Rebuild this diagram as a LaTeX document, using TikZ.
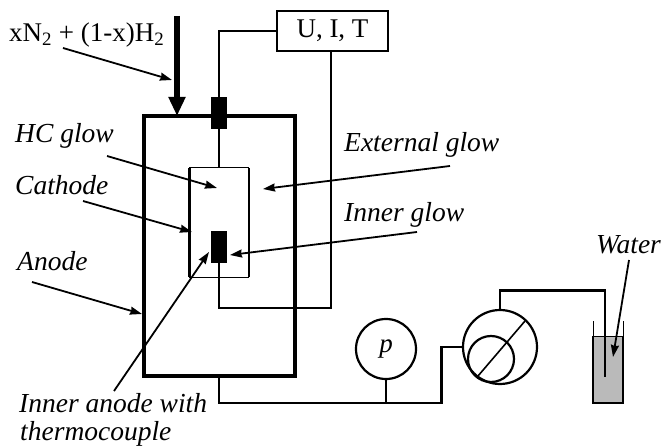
\documentclass[tikz,border=0pt]{standalone}
\usepackage{fontspec}
\setmainfont{Liberation Serif}
\usetikzlibrary{arrows.meta}

\tikzset{
    wire/.style={line width=2.4pt},
    wall/.style={line width=4pt},
    thin wall/.style={line width=1pt},
    plug/.style={fill=black,inner sep=0pt,minimum width=16pt,minimum height=32pt},
    label/.style={font=\itshape\fontsize{27.5}{30}\selectfont,inner sep=0pt,anchor=base west},
    upright/.style={font=\fontsize{27}{30}\selectfont,inner sep=0pt},
    pointer/.style={-{Stealth[length=12pt,width=8pt,inset=1pt]},line width=1.8pt},
    gasflow/.style={-{Triangle[length=19pt,width=16pt]},line width=6pt},
    meter/.style={circle,draw,line width=2.2pt,inner sep=0pt},
}

\begin{document}
\begin{tikzpicture}[x=1pt,y=-1pt]
    \useasboundingbox (0,0) rectangle (661,446);

    % chamber and cathode
    \node[draw,wall,minimum width=151pt,minimum height=260pt,inner sep=0pt] (anode) at (219,246) {};
    \node[minimum width=59pt,minimum height=109pt,inner sep=0pt] (cathode) at (219,222.5) {};
    \draw[thin wall] (cathode.north west) -- (cathode.north east);
    \draw[thin wall] (cathode.south west) -- (cathode.south east);
    \draw[wire] (cathode.north west) -- (cathode.south west);
    \draw[wire] (cathode.north east) -- (cathode.south east);
    \node[plug] (top) at (219,113) {};
    \node[plug] (inner) at (219,247) {};

    % instruments
    \node[draw,wire,upright,minimum width=111pt,minimum height=40pt] (uit) at (332.5,31) {U, I, T};
    \node[meter,minimum size=60pt,font=\itshape\fontsize{27}{30}\selectfont] (gauge) at (386,349) {p};
    \node[meter,minimum size=74pt] (pump) at (500,347) {};
    \node[meter,minimum size=46pt] (rotor) at (491,359) {};
    \coordinate (bladeA) at (478,376);
    \coordinate (bladeB) at (525,321);
    \draw[line width=1.6pt] (bladeA) -- (bladeB);

    % water vessel
    \coordinate (rimL) at (593,321);
    \coordinate (rimR) at (623,321);
    \coordinate (levelL) at (593,336);
    \coordinate (levelR) at (623,336);
    \coordinate (baseL) at (593,403);
    \coordinate (baseR) at (623,403);
    \fill[black!27] (levelL) rectangle (baseR);
    \draw[thin wall] (rimL) -- (levelL) -- (levelR) -- (rimR);
    \draw[wire] (levelL) -- (baseL) -- (baseR) -- (levelR);
    \coordinate (bubblerTop) at (605,290.5);
    \coordinate (bubbler) at (605,377);

    % connections
    \coordinate (returnBend) at (331,308);
    \coordinate (pumpBend) at (441.5,403);
    \draw[wire] (uit.west) -| (top.north);
    \draw[wire] (top.south) -- (cathode.north);
    \draw[wire] (inner.south) |- (returnBend) -- (returnBend |- uit.south);
    \draw[wire] (anode.south) |- (pumpBend) |- (pump.west);
    \draw[wire] (gauge.south) -- (gauge.south |- pumpBend);
    \draw[wire] (pump.north) |- (bubblerTop) -- (bubbler);

    % gas inlet
    \coordinate (gas) at (177,16);
    \coordinate (gasIn) at (177,116);
    \draw[gasflow] (gas) -- (gasIn);

    % labels
    \node[upright,anchor=base west] (mix) at (9,41.5) {xN\textsubscript{2} + (1-x)H\textsubscript{2}};
    \node[label] (hc) at (15,143) {HC glow};
    \node[label] (cath) at (15,195) {Cathode};
    \node[label] (ano) at (17,271) {Anode};
    \node[label] (ext) at (344,152) {External glow};
    \node[label] (ing) at (344,222) {Inner glow};
    \node[label] (wat) at (596,254) {Water};
    \node[label] (ia1) at (19,412) {Inner anode with};
    \node[label] (ia2) at (20,440) {thermocouple};

    % pointers
    \coordinate (mixFrom) at (63,48);
    \coordinate (mixTo) at (172,80);
    \coordinate (hcFrom) at (107,156);
    \coordinate (hcTo) at (217,188);
    \coordinate (cathFrom) at (83,201);
    \coordinate (cathTo) at (192,232);
    \coordinate (anoFrom) at (32,282);
    \coordinate (anoTo) at (142,314);
    \coordinate (iaFrom) at (114,391);
    \coordinate (iaTo) at (209,252);
    \coordinate (extFrom) at (450,166);
    \coordinate (extTo) at (263,189);
    \coordinate (ingFrom) at (417,232);
    \coordinate (ingTo) at (230,255);
    \coordinate (watFrom) at (629,260);
    \coordinate (watTo) at (613,357);
    \draw[pointer] (mixFrom) -- (mixTo);
    \draw[pointer] (hcFrom) -- (hcTo);
    \draw[pointer] (cathFrom) -- (cathTo);
    \draw[pointer] (anoFrom) -- (anoTo);
    \draw[pointer] (iaFrom) -- (iaTo);
    \draw[pointer] (extFrom) -- (extTo);
    \draw[pointer] (ingFrom) -- (ingTo);
    \draw[pointer] (watFrom) -- (watTo);
\end{tikzpicture}
\end{document}
